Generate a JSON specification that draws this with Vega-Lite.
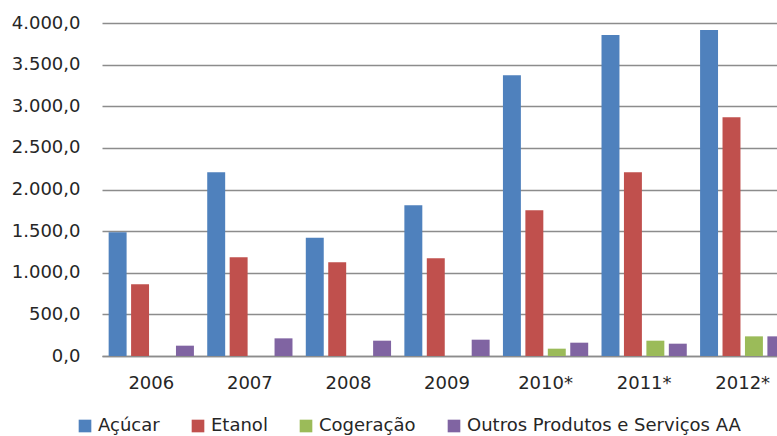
{
  "$schema": "https://vega.github.io/schema/vega-lite/v6.json",
  "autosize": "none",
  "width": 675,
  "height": 333,
  "padding": {"left": 102, "top": 23, "right": 0, "bottom": 80},
  "background": "white",
  "data": {
    "values": [
      {"ano": "2006", "serie": "Açúcar", "valor": 1486},
      {"ano": "2006", "serie": "Etanol", "valor": 861},
      {"ano": "2006", "serie": "Outros Produtos e Serviços AA", "valor": 124},
      {"ano": "2007", "serie": "Açúcar", "valor": 2207},
      {"ano": "2007", "serie": "Etanol", "valor": 1185},
      {"ano": "2007", "serie": "Outros Produtos e Serviços AA", "valor": 212},
      {"ano": "2008", "serie": "Açúcar", "valor": 1421},
      {"ano": "2008", "serie": "Etanol", "valor": 1125},
      {"ano": "2008", "serie": "Outros Produtos e Serviços AA", "valor": 184},
      {"ano": "2009", "serie": "Açúcar", "valor": 1810},
      {"ano": "2009", "serie": "Etanol", "valor": 1173},
      {"ano": "2009", "serie": "Outros Produtos e Serviços AA", "valor": 196},
      {"ano": "2010*", "serie": "Açúcar", "valor": 3371},
      {"ano": "2010*", "serie": "Etanol", "valor": 1750},
      {"ano": "2010*", "serie": "Cogeração", "valor": 88},
      {"ano": "2010*", "serie": "Outros Produtos e Serviços AA", "valor": 160},
      {"ano": "2011*", "serie": "Açúcar", "valor": 3856},
      {"ano": "2011*", "serie": "Etanol", "valor": 2207},
      {"ano": "2011*", "serie": "Cogeração", "valor": 184},
      {"ano": "2011*", "serie": "Outros Produtos e Serviços AA", "valor": 148},
      {"ano": "2012*", "serie": "Açúcar", "valor": 3916},
      {"ano": "2012*", "serie": "Etanol", "valor": 2867},
      {"ano": "2012*", "serie": "Cogeração", "valor": 236},
      {"ano": "2012*", "serie": "Outros Produtos e Serviços AA", "valor": 236}
    ]
  },
  "mark": {"type": "bar"},
  "encoding": {
    "x": {
      "field": "ano",
      "type": "nominal",
      "sort": null,
      "scale": {"range": [0, 690], "paddingInner": 0.135, "paddingOuter": 0.0675},
      "axis": {
        "title": null,
        "labelAngle": 0,
        "ticks": false,
        "labelPadding": 18,
        "domainColor": "#8c8c8c",
        "domainWidth": 1.5
      }
    },
    "xOffset": {
      "field": "serie",
      "type": "nominal",
      "scale": {
        "domain": ["Açúcar", "Etanol", "Cogeração", "Outros Produtos e Serviços AA"],
        "paddingInner": 0.2,
        "paddingOuter": 0
      }
    },
    "y": {
      "field": "valor",
      "type": "quantitative",
      "scale": {"domain": [0, 4000], "nice": false},
      "axis": {
        "title": null,
        "values": [0, 500, 1000, 1500, 2000, 2500, 3000, 3500, 4000],
        "labelExpr": "replace(replace(replace(format(datum.value, ',.1f'), ',', '_'), '.', ','), '_', '.')",
        "domain": false,
        "ticks": false,
        "labelPadding": 22,
        "gridColor": "#8c8c8c",
        "gridWidth": 1.5
      }
    },
    "color": {
      "field": "serie",
      "type": "nominal",
      "scale": {
        "domain": ["Açúcar", "Etanol", "Cogeração", "Outros Produtos e Serviços AA"],
        "range": ["#4F81BD", "#C0504D", "#9BBB59", "#8064A2"]
      },
      "legend": {
        "title": null,
        "orient": "none",
        "direction": "horizontal",
        "legendX": -26,
        "legendY": 394,
        "symbolType": "square",
        "symbolSize": 160,
        "symbolStrokeWidth": 0,
        "labelOffset": 4,
        "columnPadding": 29,
        "labelFontSize": 18,
        "labelFont": "DejaVu Sans",
        "labelColor": "#262626",
        "labelLimit": 400,
        "padding": 0
      }
    }
  },
  "config": {
    "view": {"stroke": null},
    "axis": {
      "labelFont": "DejaVu Sans",
      "labelFontSize": 18,
      "labelColor": "#262626"
    }
  }
}
